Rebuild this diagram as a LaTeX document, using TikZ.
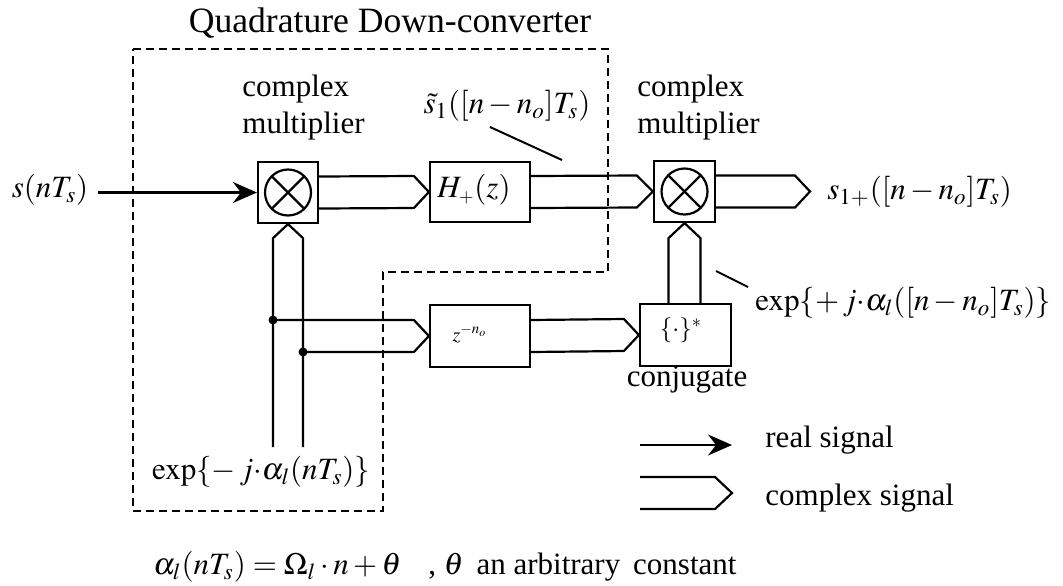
\documentclass[tikz,border=0pt]{standalone}
\usepackage{mathptmx}
\usepackage{fontspec}
\setmainfont{Liberation Serif}
\usetikzlibrary{arrows.meta,calc}
\tikzset{
  lbl/.style={font=\fontsize{15.5}{18.5}\selectfont, inner sep=0pt},
  blk/.style={draw, line width=1.1pt, inner sep=0pt},
  cplx/.style={line width=1.1pt, line join=miter},
  realarr/.style={line width=1.1pt, -{Stealth[length=12pt,width=10.5pt,inset=4pt]}},
  dashbox/.style={line width=1pt, dash pattern=on 4pt off 2.5pt},
  leader/.style={line width=1pt},
  jdot/.style={circle, fill=black, inner sep=0pt, minimum size=4.5pt}
}
\newcommand{\tdot}{\mathord{\cdot}}
\begin{document}
\begin{tikzpicture}[x=0.5pt,y=-0.5pt]
\useasboundingbox (0,0) rectangle (1063,585);

% title and dashed region
\node[lbl, font=\fontsize{17.8}{20}\selectfont] (title) at (390,23) {Quadrature Down-converter};
\draw[dashbox] (133,49) -- (608,49) -- (608,272) -- (383,272) -- (383,511) -- (133,511) -- cycle;

% blocks
\node[blk, minimum width=30pt, minimum height=30.5pt] (mult1) at (288,192.5) {};
\node[blk, minimum width=50pt, minimum height=30pt] (H) at (480,192) {};
\node[blk, minimum width=30.5pt, minimum height=30.5pt] (mult2) at (684.5,191.5) {};
\node[blk, minimum width=50pt, minimum height=31pt] (zbox) at (480,336) {};
\node[blk, minimum width=45.5pt, minimum height=31pt] (conj) at (685.5,335) {};

% multiplier symbols
\foreach \m in {mult1,mult2}{
  \draw[line width=1.1pt] (\m.center) circle (11.5pt);
  \draw[line width=1.1pt] ($(\m.center)+(-16,-16)$) -- ($(\m.center)+(16,16)$);
  \draw[line width=1.1pt] ($(\m.center)+(-16,16)$) -- ($(\m.center)+(16,-16)$);
}

% block texts
\node[lbl, anchor=west] (Hl) at (437,190) {$H_{\scriptscriptstyle +}(z)$};
\node[lbl, font=\fontsize{10}{12}\selectfont] (zl) at (470,334) {$z^{-n_o}$};
\node[lbl, font=\fontsize{12.5}{14}\selectfont] (cl) at (681,330) {$\{\tdot\}^{*}$};
\node[lbl] (conjl) at (687,380) {conjugate};

% multiplier labels
\node[lbl, anchor=west, align=left] (m1l) at (242,108) {complex\\multiplier};
\node[lbl, anchor=west, align=left] (m2l) at (637,108) {complex\\multiplier};

% input
\node[lbl] (sin) at (50,190) {$s(nT_s)$};
\coordinate (sinstart) at (98,192.5);
\draw[realarr] (sinstart) -- (mult1.west);

% mult1 -> H
\draw[cplx] ($(mult1.east)+(0,-16)$) -- ($(H.west)+(-15,-16)$) -- (H.west) -- ($(H.west)+(-15,16)$) -- ($(mult1.east)+(0,16)$);
% H -> mult2
\draw[cplx] ($(H.east)+(0,-16)$) -- ($(mult2.west)+(-16,-16)$) -- (mult2.west) -- ($(mult2.west)+(-16,16)$) -- ($(H.east)+(0,16)$);
% output
\coordinate (outtip) at (810,191.5);
\draw[cplx] ($(mult2.east)+(0,-16)$) -- ($(outtip)+(-15,-16)$) -- (outtip) -- ($(outtip)+(-15,16)$) -- ($(mult2.east)+(0,16)$);
\node[lbl, anchor=west] (sout) at (827,192) {$s_{1+}([n-n_o]T_s)$};

% s tilde label
\node[lbl] (stl) at (507,106) {$\tilde{s}_1([n-n_o]T_s)$};
\coordinate (stla) at (490,127);
\coordinate (stlb) at (562,160);
\draw[leader] (stla) -- (stlb);

% local oscillator into mult1
\coordinate (lobot) at (288,447);
\draw[cplx] ($(lobot)+(-15,0)$) -- ($(mult1.south)+(-15,14)$) -- (mult1.south) -- ($(mult1.south)+(15,14)$) -- ($(lobot)+(15,0)$);
\node[lbl] (lol) at (261,472) {$\exp\{-\,j\tdot\alpha_l(nT_s)\}$};

% branch to delay
\coordinate (d1) at (273,320);
\coordinate (d2) at (303,352);
\draw[cplx] (d1) -- ($(zbox.west)+(-15,-16)$) -- (zbox.west) -- ($(zbox.west)+(-15,16)$) -- (d2);
\node[jdot] (dot1) at (d1) {};
\node[jdot] (dot2) at (d2) {};

% delay -> conj
\draw[cplx] ($(zbox.east)+(0,-16)$) -- ($(conj.west)+(-15,-16)$) -- (conj.west) -- ($(conj.west)+(-15,16)$) -- ($(zbox.east)+(0,16)$);

% conj -> mult2
\draw[cplx] ($(mult2.south |- conj.north)+(-16,0)$) -- ($(mult2.south)+(-16,15)$) -- (mult2.south) -- ($(mult2.south)+(16,15)$) -- ($(mult2.south |- conj.north)+(16,0)$);
\node[lbl, anchor=west] (expp) at (755,303) {$\exp\{+\,j\tdot\alpha_l([n-n_o]T_s)\}$};
\coordinate (expa) at (716,271);
\coordinate (expb) at (748,287);
\draw[leader] (expa) -- (expb);

% legend
\coordinate (lra) at (640,445);
\coordinate (lrb) at (732,445);
\draw[realarr] (lra) -- (lrb);
\node[lbl, anchor=west] (lrl) at (765,440) {real signal};
\coordinate (lca) at (640,493);
\coordinate (lcb) at (732,493);
\draw[cplx] ($(lca)+(0,-16)$) -- ($(lcb)+(-17,-16)$) -- (lcb) -- ($(lcb)+(-17,16)$) -- ($(lca)+(0,16)$);
\node[lbl, anchor=west] (lcl) at (765,498) {complex signal};

% bottom equation
\node[lbl, anchor=west] (eqa) at (153,567) {$\alpha_l(nT_s)=\Omega_l\cdot n+\theta$};
\node[lbl, anchor=west] (eqb) at (428,567) {, $\theta$\, an arbitrary\, constant};
\end{tikzpicture}
\end{document}
